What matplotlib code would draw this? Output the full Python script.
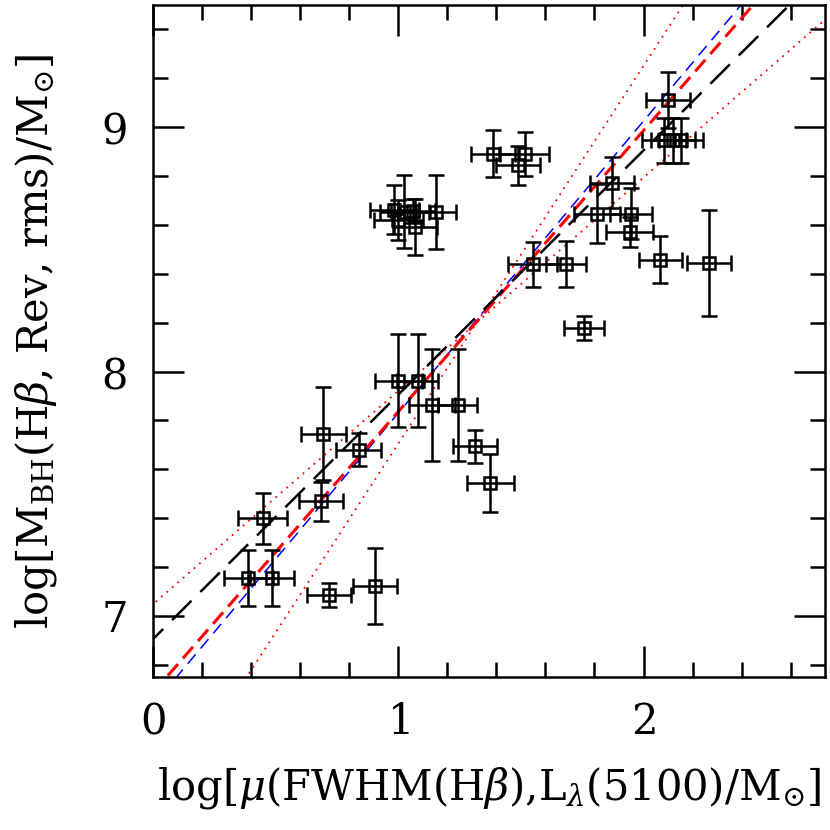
#!/usr/bin/env python3

import numpy as np
import matplotlib
matplotlib.use('Agg')
import matplotlib.pyplot as plt
from matplotlib.ticker import MultipleLocator

# log mu (x) and log M_BH (y) with errors
log_mu = [0.448, 0.388, 0.485, 0.684, 0.695, 0.838, 0.716, 0.905,
          1.000, 1.079, 1.138, 1.242, 1.313, 1.376,
          1.385, 1.515, 1.487,
          0.983, 1.024, 1.060, 1.068, 1.154, 1.000,
          1.549, 1.684, 1.757, 1.811, 1.871, 1.943, 1.950,
          2.068, 2.267, 2.100, 2.085, 2.120, 2.154]
log_mbh = [7.40, 7.155, 7.155, 7.47, 7.745, 7.68, 7.085, 7.123,
           7.963, 7.963, 7.864, 7.864, 7.694, 7.544,
           8.892, 8.892, 8.844,
           8.663, 8.654, 8.658, 8.59, 8.653, 8.62,
           8.44, 8.44, 8.178, 8.646, 8.773, 8.571, 8.646,
           8.458, 8.445, 9.111, 8.947, 8.947, 8.947]
err_x = [0.10, 0.10, 0.09, 0.09, 0.09, 0.09, 0.09, 0.09,
         0.095, 0.085, 0.094, 0.08, 0.09, 0.095,
         0.09, 0.10, 0.09,
         0.10, 0.10, 0.09, 0.09, 0.08, 0.10,
         0.10, 0.08, 0.08, 0.095, 0.09, 0.094, 0.085,
         0.087, 0.09, 0.09, 0.09, 0.09, 0.09]
err_y = [0.105, 0.115, 0.115, 0.08, 0.19, 0.067, 0.05, 0.155,
         0.19, 0.19, 0.23, 0.23, 0.067, 0.117,
         0.097, 0.09, 0.08,
         0.10, 0.15, 0.05, 0.115, 0.15, 0.08,
         0.092, 0.095, 0.05, 0.12, 0.105, 0.06, 0.105,
         0.097, 0.217, 0.115, 0.092, 0.092, 0.092]

# fits: (intercept, slope)
fit_black = (6.905, 1.0)
fit_red = (6.686, 1.15)
fit_blue = (6.635, 1.195)
band_shallow = (7.048, 0.873)
band_steep = (6.159, 1.546)

x_ticks = [0, 1, 2]
y_ticks = [7, 8, 9]

plt.rcParams['font.family'] = 'DejaVu Serif'
plt.rcParams['mathtext.fontset'] = 'dejavuserif'
plt.rcParams['axes.formatter.use_mathtext'] = True

fig = plt.figure(figsize=(8.3, 8.3), dpi=100)
ax = fig.add_axes([0.1843, 0.1843, 0.8097, 0.8097])

xx = np.array([-0.5, 3.5])
ax.plot(xx, band_shallow[0] + band_shallow[1] * xx, color='red', lw=1.3, linestyle=(0, (1, 3)))
ax.plot(xx, band_steep[0] + band_steep[1] * xx, color='red', lw=1.3, linestyle=(0, (1, 3)))
ax.plot(xx, fit_blue[0] + fit_blue[1] * xx, color='blue', lw=1.1, dashes=(8, 5))
ax.plot(xx, fit_red[0] + fit_red[1] * xx, color='red', lw=2.2, dashes=(5, 2.5))
ax.plot(xx, fit_black[0] + fit_black[1] * xx, color='black', lw=1.8, dashes=(11, 5))

ax.errorbar(log_mu, log_mbh, xerr=err_x, yerr=err_y, fmt='s', mfc='none', mec='black',
            ms=9, mew=1.8, ecolor='black', elinewidth=1.8, capsize=5.5, capthick=1.8)

ax.set_xlim(0, 2.74)
ax.set_ylim(6.75, 9.5)
ax.set_xticks(x_ticks)
ax.set_yticks(y_ticks)
ax.xaxis.set_minor_locator(MultipleLocator(0.2))
ax.yaxis.set_minor_locator(MultipleLocator(0.2))
ax.tick_params(which='both', direction='in', top=True, right=True, width=1.8)
ax.tick_params(which='major', length=22, labelsize=30)
ax.tick_params(axis='x', which='major', pad=17)
ax.tick_params(axis='y', which='major', pad=19)
ax.tick_params(which='minor', length=11)
for s in ax.spines.values():
    s.set_linewidth(1.8)

ax.set_xlabel(r'log[$\mu$(FWHM(H$\beta$),L$_{\lambda}$(5100)/M$_{\odot}$]',
              fontsize=30, labelpad=16)
ax.set_ylabel(r'log[M$_{\rm BH}$(H$\beta$, Rev, rms)/M$_{\odot}$]',
              fontsize=30, labelpad=30)

plt.savefig('out.png', dpi=100)
